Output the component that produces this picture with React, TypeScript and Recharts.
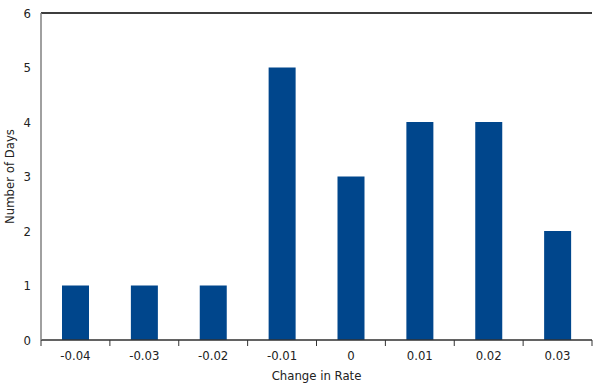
import React from 'react';
import { BarChart, Bar, XAxis, YAxis, CartesianGrid, ReferenceLine } from 'recharts';

const categories = ['-0.04', '-0.03', '-0.02', '-0.01', '0', '0.01', '0.02', '0.03'];
const days = [1, 1, 1, 5, 3, 4, 4, 2];
const yTicks = [0, 1, 2, 3, 4, 5, 6];

const data = categories.map((c, i) => ({ rate: c, days: days[i] }));

const FONT = '"Liberation Sans Narrow", "DejaVu Sans Condensed", sans-serif';
const W = 600;
const H = 388;
const LEFT = 41;
const RIGHT = 8;
const band = (W - LEFT - RIGHT) / categories.length;

const RateTick = (props: any) => {
    const { x, y, payload, index } = props;
    const last = index === categories.length - 1;
    return (
        <g>
            <line x1={x - band / 2} y1={y - 8} x2={x - band / 2} y2={y - 2} stroke="#333" />
            {last && <line x1={x + band / 2} y1={y - 8} x2={x + band / 2} y2={y - 2} stroke="#333" />}
            <text x={x} y={y + 12} textAnchor="middle" fill="#222" fontSize={13} fontFamily={FONT}>
                {payload.value}
            </text>
        </g>
    );
};

const App: React.FC = () => {
    return (
        <div style={{ position: 'absolute', left: 0, top: 0, background: '#fff' }}>
            <BarChart
                width={W}
                height={H}
                data={data}
                margin={{ top: 13, right: RIGHT, left: 0, bottom: 16 }}
                barCategoryGap="30%"
            >
                <CartesianGrid vertical={false} stroke="#e6e6e6" />
                <XAxis
                    dataKey="rate"
                    tick={<RateTick />}
                    tickLine={false}
                    axisLine={{ stroke: '#333', strokeWidth: 1.5 }}
                    height={32}
                    interval={0}
                    label={{ value: 'Change in Rate', position: 'insideBottom', offset: -8, fill: '#222', fontSize: 13, fontFamily: FONT }}
                />
                <YAxis
                    yAxisId="left"
                    domain={[0, 6]}
                    ticks={yTicks}
                    width={LEFT}
                    tickLine={false}
                    axisLine={{ stroke: '#808080', strokeWidth: 1.5 }}
                    tick={{ fill: '#222', fontSize: 13, fontFamily: FONT }}
                    tickMargin={4}
                    label={{ value: 'Number of Days', angle: -90, position: 'insideLeft', offset: 9, fill: '#222', fontSize: 13, fontFamily: FONT, style: { textAnchor: 'middle' } }}
                />
                <YAxis
                    yAxisId="right"
                    orientation="right"
                    width={0}
                    domain={[0, 6]}
                    tick={false}
                    tickLine={false}
                    axisLine={{ stroke: '#000', strokeWidth: 1.5 }}
                />
                <ReferenceLine yAxisId="left" y={6} stroke="#000" strokeWidth={1.5} />
                <Bar yAxisId="left" dataKey="days" fill="#00468C" barSize={27} isAnimationActive={false} />
            </BarChart>
        </div>
    );
};

export default App;
